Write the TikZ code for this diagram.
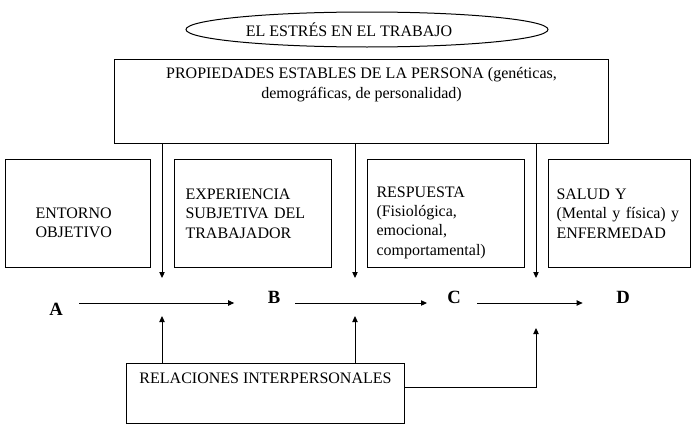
\documentclass[tikz,border=0pt]{standalone}
\usepackage{fontspec}
\setmainfont{Liberation Serif}
\usetikzlibrary{arrows.meta,shapes.geometric}
\tikzset{
	caja/.style={draw, line width=0.75pt, anchor=north west, align=left, minimum height=81pt},
	letra/.style={inner sep=0pt, anchor=base, font=\fontsize{14}{16}\selectfont\bfseries},
	flecha/.style={-{Triangle[length=4.5pt,width=4pt]}, line width=0.75pt}
}

\begin{document}
\begin{tikzpicture}[x=0.75pt,y=-0.75pt,every node/.style={font=\fontsize{12}{14.5}\selectfont}]
	\useasboundingbox (0,0) rectangle (695,432);
	\node[draw, ellipse, line width=0.75pt, minimum width=271.5pt, minimum height=26.25pt] (titulo) at (367,29.5) {EL ESTRÉS EN EL TRABAJO\hspace*{27pt}};
	\node[caja, minimum width=370.5pt, minimum height=63pt,
		label={[anchor=north, align=center, inner sep=6.25pt, font=\fontsize{12}{15}\selectfont]north:{PROPIEDADES ESTABLES DE LA PERSONA (genéticas,\\demográficas, de personalidad)}}] (prop) at (114,59) {};
	\node[caja, text width=63.75pt, inner xsep=22.5pt, text height=21.5pt] (entorno) at (5,159) {ENTORNO\\OBJETIVO};
	\node[caja, text width=101.25pt, inner xsep=8.25pt] (experiencia) at (174,159) {EXPERIENCIA\\SUBJETIVA DEL\\TRABAJADOR};
	\node[caja, text width=104.25pt, inner xsep=6.75pt, text height=21.5pt] (respuesta) at (367,159) {RESPUESTA\\(Fisiológica,\\emocional,\\comportamental)};
	\node[caja, text width=94.5pt, inner xsep=6pt] (salud) at (548,159) {SALUD Y\\(Mental y física) y\\ENFERMEDAD};
	\node[letra] (A) at (56,315) {A};
	\node[letra] (B) at (274,303) {B};
	\node[letra] (C) at (454,303) {C};
	\node[letra] (D) at (623,303) {D};
	\node[draw, line width=0.75pt, anchor=north west, minimum width=208.5pt, minimum height=45pt,
		label={[anchor=north, inner sep=7pt]north:RELACIONES INTERPERSONALES}] (relaciones) at (126,363) {};
	\coordinate (p1) at (162,278);
	\coordinate (p2) at (355,278);
	\coordinate (p3) at (536,278);
	\coordinate (r1) at (162,316);
	\coordinate (r2) at (355,316);
	\coordinate (r3) at (536,328);
	\draw[flecha] (prop.south -| p1) -- (p1);
	\draw[flecha] (prop.south -| p2) -- (p2);
	\draw[flecha] (prop.south -| p3) -- (p3);
	\draw[flecha, shorten <=12pt, shorten >=25pt] (A.east |- B.base) -- (B.base west);
	\draw[flecha, shorten <=11pt, shorten >=15pt] (B.base east) -- (C.base west);
	\draw[flecha, shorten <=12pt, shorten >=25pt] (C.base east) -- (D.base west);
	\draw[flecha] (relaciones.north -| r1) -- (r1);
	\draw[flecha] (relaciones.north -| r2) -- (r2);
	\draw[flecha] ([yshift=4.5pt]relaciones.east) -| (r3);
\end{tikzpicture}
\end{document}
